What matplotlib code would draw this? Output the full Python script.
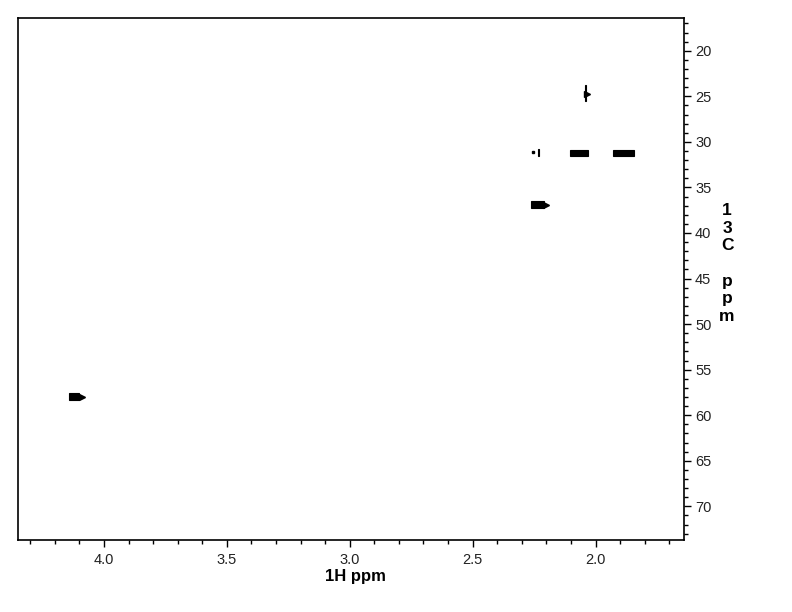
"""
HSQC-style 2D NMR spectrum (1H vs 13C), contour peaks drawn as filled blobs
"""

import matplotlib.pyplot as plt
from matplotlib.patches import Rectangle
from matplotlib.ticker import MultipleLocator

plt.rcParams['font.family'] = ['Liberation Sans', 'DejaVu Sans']

# Peak boxes: 1H range (ppm) and 13C range (ppm)
h_lo = [4.142, 2.264, 2.235, 2.102, 1.927, 2.044]
h_hi = [4.100, 2.210, 2.229, 2.030, 1.843, 2.040]
c_lo = [57.6, 36.5, 30.8, 30.9, 30.9, 23.7]
c_hi = [58.3, 37.3, 31.5, 31.5, 31.5, 25.5]

# small pointed tips on some peaks (1H, 13C)
tip_h = [4.090, 2.203, 2.035, 2.256]
tip_c = [57.95, 36.9, 24.7, 31.15]
tip_m = ['>', '>', '>', 's']
tip_s = [5, 5, 4, 1.5]

x_ticks = [4.0, 3.5, 3.0, 2.5, 2.0]
y_ticks = [20, 25, 30, 35, 40, 45, 50, 55, 60, 65, 70]

fig = plt.figure(figsize=(7.92, 6.12), dpi=100)
ax = fig.add_axes([18 / 792, 72 / 612, 666 / 792, 522 / 612])

for x0, x1, y0, y1 in zip(h_lo, h_hi, c_lo, c_hi):
    ax.add_patch(Rectangle((min(x0, x1), y0), abs(x1 - x0), y1 - y0,
                           facecolor='black', edgecolor='black', linewidth=0.8))
for hx, cy, m, s in zip(tip_h, tip_c, tip_m, tip_s):
    ax.plot(hx, cy, marker=m, markersize=s, color='black', linestyle='none')

ax.set_xlim(4.35, 1.64)
ax.set_ylim(73.7, 16.4)

ax.set_xticks(x_ticks)
ax.set_xticklabels([f'{v:.1f}' for v in x_ticks])
ax.xaxis.set_minor_locator(MultipleLocator(0.1))
ax.set_yticks(y_ticks)
ax.yaxis.set_minor_locator(MultipleLocator(1))
ax.yaxis.tick_right()

ax.tick_params(axis='both', which='major', direction='out', length=5, width=1,
               labelsize=10.5, colors='black', labelcolor='#222222')
ax.tick_params(axis='both', which='minor', direction='out', length=3, width=1)
ax.tick_params(axis='x', which='major', pad=4)
ax.tick_params(axis='y', which='major', pad=3)

for sp in ax.spines.values():
    sp.set_linewidth(1.2)

fig.text(355 / 792, 1 - 577 / 612, '1H ppm', ha='center', va='center',
         fontsize=12, fontweight='bold')
fig.text(727 / 792, 1 - 263.5 / 612, '1\n3\nC\n\np\np\nm', ha='center', va='center',
         fontsize=12.5, fontweight='bold', linespacing=1.22)

plt.savefig('out.png', dpi=100)
plt.close()
